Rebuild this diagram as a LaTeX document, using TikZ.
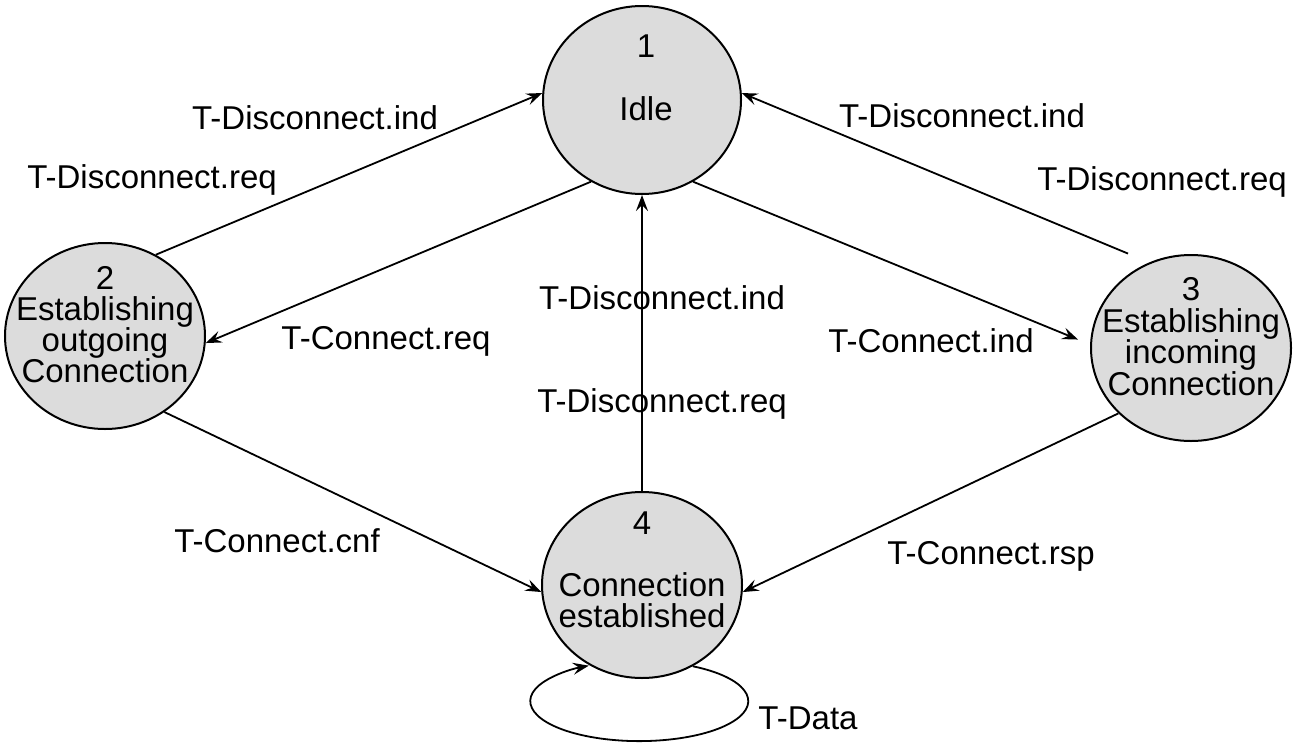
\documentclass[tikz,border=0pt]{standalone}
\usepackage{fontspec}
\setmainfont{Liberation Sans}
\usetikzlibrary{shapes.geometric,arrows.meta}
\definecolor{statefill}{RGB}{220,220,220}
\begin{document}
\begin{tikzpicture}[x=1pt,y=1pt,
  state/.style={ellipse,draw,line width=2pt,fill=statefill,inner sep=0pt,minimum width=200pt,minimum height=186pt},
  txt/.style={inner sep=0pt,anchor=base,font=\fontsize{33}{33}\selectfont},
  conn/.style={line width=1.8pt,-{Stealth[length=16pt,width=12pt,inset=6pt]}}]
\useasboundingbox (0,0) rectangle (1306,-742);
% states
\node[state,minimum width=198pt,minimum height=188pt] (e1) at (642,-100) {};
\node[state] (e2) at (105,-336) {};
\node[state] (e3) at (1191,-348) {};
\node[state] (e4) at (642,-585) {};
% state texts
\node[txt] (t1a) at (646,-57) {1};
\node[txt] (t1b) at (646,-120) {Idle};
\node[txt] (t2a) at (105,-289) {2};
\node[txt] (t2b) at (105,-320) {Establishing};
\node[txt] (t2c) at (105,-351) {outgoing};
\node[txt] (t2d) at (105,-382) {Connection};
\node[txt] (t3a) at (1191,-300) {3};
\node[txt] (t3b) at (1191,-332) {Establishing};
\node[txt] (t3c) at (1191,-363) {incoming};
\node[txt] (t3d) at (1191,-395) {Connection};
\node[txt] (t4a) at (642,-534) {4};
\node[txt] (t4b) at (642,-596) {Connection};
\node[txt] (t4c) at (642,-627) {established};
% connectors
\draw[conn] (e2.58) -- (e1.176);
\draw[conn] (e1.238) -- (e2.356.6);
\draw[conn,shorten >=13pt] (e1.302) -- (e3.178);
\draw[conn,shorten <=23pt] (e3.116) -- (e1.4);
\draw[conn] (e4.north) -- (e1.south);
\draw[conn] (e2.-52.6) -- (e4.184);
\draw[conn] (e3.222.6) -- (e4.356);
\draw[conn] (e4.-58.6) arc[start angle=60.6,end angle=-242.4,x radius=109,y radius=40];
% labels
\node[txt] (l1) at (315,-129) {T-Disconnect.ind};
\node[txt] (l2) at (152,-188) {T-Disconnect.req};
\node[txt] (l3) at (962,-127) {T-Disconnect.ind};
\node[txt] (l4) at (1162,-190) {T-Disconnect.req};
\node[txt] (l5) at (662,-309) {T-Disconnect.ind};
\node[txt] (l6) at (662,-412) {T-Disconnect.req};
\node[txt] (l7) at (386,-349) {T-Connect.req};
\node[txt] (l8) at (931,-352) {T-Connect.ind};
\node[txt] (l9) at (277,-552) {T-Connect.cnf};
\node[txt] (l10) at (991,-564) {T-Connect.rsp};
\node[txt] (l11) at (808,-729) {T-Data};
\end{tikzpicture}
\end{document}
